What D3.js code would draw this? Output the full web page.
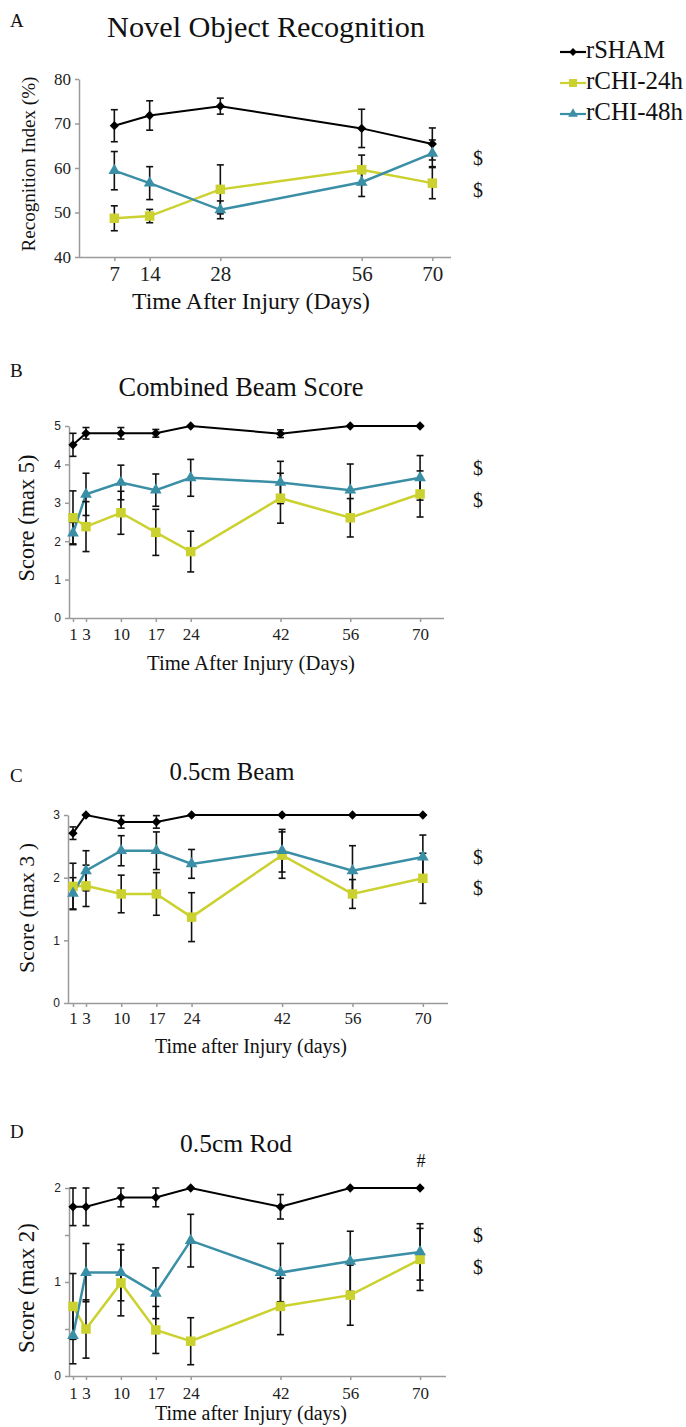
<!DOCTYPE html>
<html><head><meta charset="utf-8">
<script src="https://cdn.jsdelivr.net/npm/d3@7"></script>
<style>body{margin:0;background:#fff}</style></head><body>
<svg id="c" width="686" height="1427"></svg>
<script>
const seriesNames=["rSHAM","rCHI-24h","rCHI-48h"];
const seriesColors=["#000000","#cbd12f","#3a8fa6"];

const norDays=[7,14,28,56,70];
const norSham=[69.5,71.8,73.9,68.9,65.4];
const norShamErr=[3.6,3.3,1.8,4.3,3.6];
const nor24=[48.7,49.2,55.2,59.6,56.6];
const nor24Err=[2.8,1.5,5.5,3.3,3.5];
const nor48=[59.4,56.6,50.6,56.8,63.3];
const nor48Err=[4.3,3.7,2.0,3.2,3.0];
const norYTicks=[40,50,60,70,80];

const beamDays=[1,3,10,17,24,42,56,70];
const combSham=[4.51,4.81,4.81,4.81,5,4.8,5,5];
const combShamErr=[0.3,0.15,0.15,0.1,0,0.1,0,0];
const comb24=[2.61,2.38,2.74,2.23,1.73,3.12,2.61,3.23];
const comb24Err=[0.7,0.65,0.56,0.6,0.53,0.65,0.5,0.6];
const comb48=[2.21,3.22,3.53,3.33,3.65,3.53,3.33,3.65];
const comb48Err=[0.28,0.55,0.45,0.42,0.48,0.55,0.68,0.58];
const combYTicks=[0,1,2,3,4,5];

const beamSham=[2.71,3,2.89,2.89,3,3,3,3];
const beamShamErr=[0.1,0,0.1,0.1,0,0,0,0];
const beam24=[1.86,1.87,1.74,1.74,1.37,2.36,1.74,1.99];
const beam24Err=[0.37,0.33,0.3,0.34,0.39,0.37,0.23,0.4];
const beam48=[1.75,2.11,2.43,2.43,2.22,2.43,2.11,2.33];
const beam48Err=[0.25,0.32,0.24,0.3,0.23,0.34,0.4,0.35];
const beamYTicks=[0,1,2,3];

const rodSham=[1.8,1.8,1.9,1.9,2,1.8,2,2];
const rodShamErr=[0.2,0.2,0.1,0.1,0,0.13,0,0];
const rod24=[0.74,0.5,0.99,0.49,0.37,0.74,0.86,1.24];
const rod24Err=[0.35,0.31,0.35,0.25,0.25,0.3,0.32,0.33];
const rod48=[0.43,1.10,1.10,0.88,1.44,1.10,1.22,1.32];
const rod48Err=[0.3,0.31,0.3,0.27,0.28,0.31,0.32,0.3];
const rodYTicks=[0,0.5,1,1.5,2];
const rodYLabels=[0,1,2];

const SERIF="Liberation Serif";
const SANS="Liberation Sans";
const AXIS="#9a9a9a";
const svg=d3.select("#c");

function fitText(t,w){
  const l=t.node().getComputedTextLength();
  const fs=parseFloat(t.attr("font-size"));
  if(l>0) t.attr("font-size",fs*w/l);
  return t;
}
function txt(x,y,s,size,w,anchor,rot){
  const t=svg.append("text").attr("x",x).attr("y",y).style("font-family",SERIF)
    .attr("font-size",size).attr("text-anchor",anchor||"middle").attr("fill","#111").text(s);
  if(rot){t.attr("transform",`rotate(-90,${x},${y})`);}
  if(w) fitText(t,w);
  return t;
}
const shapes=[d3.symbolDiamond2,d3.symbolSquare,d3.symbolTriangle];
const shapeSizes=[55,90,60];

function panel(o){
  const x=d3.scaleLinear().domain(o.xd).range(o.xr);
  const y=d3.scaleLinear().domain(o.yd).range(o.yr);
  const g=svg.append("g");
  const ya=d3.axisLeft(y).tickValues(o.yTicks).tickSize(4).tickSizeOuter(0).tickPadding(4)
    .tickFormat(v=>o.yLabels?(o.yLabels.includes(v)?d3.format("d")(v):""):d3.format("d")(v));
  const gy=g.append("g").attr("transform",`translate(${o.axisX},0)`).call(ya);
  gy.selectAll("path,line").attr("stroke",AXIS).attr("stroke-width",1.5);
  gy.selectAll("text").style("font-family",o.yTickFont).attr("font-size",o.yTickSize).attr("fill","#222");
  const xa=d3.axisBottom(x).tickValues(o.xTicks).tickSize(4).tickSizeOuter(0).tickPadding(o.xPad).tickFormat(d3.format("d"));
  const gx=g.append("g").attr("transform",`translate(0,${o.yr[0]})`).call(xa);
  gx.select("path.domain").attr("d",`M${o.axisX},0.5H${o.xEnd}`);
  gx.selectAll("path,line").attr("stroke",AXIS).attr("stroke-width",1.5);
  gx.selectAll("text").style("font-family",SERIF).attr("font-size",o.xTickSize).attr("fill","#222");
  const line=d3.line().x(d=>x(d[0])).y(d=>y(d[1]));
  o.series.forEach((s,i)=>{
    const pts=o.days.map((d,j)=>[d,s.v[j],s.e[j]]);
    g.append("path").datum(pts).attr("d",line).attr("fill","none")
      .attr("stroke",seriesColors[i]).attr("stroke-width",i===0?2:2.5);
  });
  o.series.forEach((s,i)=>{
    const pts=o.days.map((d,j)=>[d,s.v[j],s.e[j]]).filter(p=>p[2]>0);
    const eb=g.append("g").attr("stroke","#111").attr("stroke-width",1.6);
    pts.forEach(p=>{
      const cx=x(p[0]),t=y(p[1]+p[2]),b=y(p[1]-p[2]);
      eb.append("line").attr("x1",cx).attr("x2",cx).attr("y1",t).attr("y2",b);
      eb.append("line").attr("x1",cx-3.5).attr("x2",cx+3.5).attr("y1",t).attr("y2",t);
      eb.append("line").attr("x1",cx-3.5).attr("x2",cx+3.5).attr("y1",b).attr("y2",b);
    });
  });
  o.series.forEach((s,i)=>{
    g.append("g").selectAll("path").data(o.days.map((d,j)=>[d,s.v[j]])).join("path")
      .attr("transform",d=>`translate(${x(d[0])},${y(d[1])})`)
      .attr("d",d3.symbol().type(shapes[i]).size(shapeSizes[i])).attr("fill",seriesColors[i]);
  });
}

// Panel A
txt(10,27,"A",19,null,"start");
txt(266,37,"Novel Object Recognition",24,318);
panel({xd:[0,73.7],xr:[79,451],yd:[40,80],yr:[257,79],axisX:79,xEnd:451,
  yTicks:norYTicks,xTicks:norDays,days:norDays,yTickFont:SERIF,yTickSize:17,xTickSize:21,xPad:5,
  series:[{v:norSham,e:norShamErr},{v:nor24,e:nor24Err},{v:nor48,e:nor48Err}]});
txt(35,164,"Recognition Index (%)",15,175,"middle",true);
txt(251,309,"Time After Injury (Days)",19,238);
txt(478,165,"$",20);txt(478,197,"$",20);

// Legend
seriesNames.forEach((n,i)=>{
  const cy=[52,83,114][i];
  svg.append("line").attr("x1",560).attr("x2",586).attr("y1",cy).attr("y2",cy)
    .attr("stroke",seriesColors[i]).attr("stroke-width",2.2);
  svg.append("path").attr("transform",`translate(573,${cy})`)
    .attr("d",d3.symbol().type(shapes[i]).size(shapeSizes[i]*0.7)).attr("fill",seriesColors[i]);
  txt(586,cy+6,n,17,[79,97,97][i],"start");
});

// Panel B
txt(10,377,"B",19,null,"start");
txt(241,396,"Combined Beam Score",22,245);
panel({xd:[0,1,3,75],xr:[69,73,86,445],yd:[0,5],yr:[618,426],axisX:69,xEnd:444,
  yTicks:combYTicks,xTicks:beamDays,days:beamDays,yTickFont:SANS,yTickSize:12,xTickSize:17,xPad:6,
  series:[{v:combSham,e:combShamErr},{v:comb24,e:comb24Err},{v:comb48,e:comb48Err}]});
txt(34,518,"Score (max 5)",16,127,"middle",true);
txt(251,670,"Time After Injury (Days)",16,208);
txt(478,475,"$",20);txt(478,507,"$",20);

// Panel C
txt(10,782,"C",19,null,"start");
txt(232,780,"0.5cm Beam",18,125);
panel({xd:[0,1,3,75],xr:[68,73,86,448],yd:[0,3],yr:[1003,815],axisX:68,xEnd:448,
  yTicks:beamYTicks,xTicks:beamDays,days:beamDays,yTickFont:SANS,yTickSize:12,xTickSize:17,xPad:5,
  series:[{v:beamSham,e:beamShamErr},{v:beam24,e:beam24Err},{v:beam48,e:beam48Err}]});
txt(34,908,"Score (max 3 )",16,130,"middle",true);
txt(251,1053,"Time after Injury (days)",15,192);
txt(478,864,"$",20);txt(478,895,"$",20);

// Panel D
txt(10,1138,"D",19,null,"start");
txt(236,1152,"0.5cm Rod",18,112);
panel({xd:[0,1,3,75],xr:[69,73,86,445],yd:[0,2],yr:[1376,1188],axisX:69,xEnd:446,
  yTicks:rodYTicks,yLabels:rodYLabels,xTicks:beamDays,days:beamDays,yTickFont:SANS,yTickSize:12,xTickSize:17,xPad:7,
  series:[{v:rodSham,e:rodShamErr},{v:rod24,e:rod24Err},{v:rod48,e:rod48Err}]});
txt(34,1288,"Score (max 2)",16,130,"middle",true);
txt(251,1420,"Time after Injury (days)",15,192);
txt(421,1167,"#",18);
txt(478,1242,"$",20);txt(478,1274,"$",20);
</script></body></html>
